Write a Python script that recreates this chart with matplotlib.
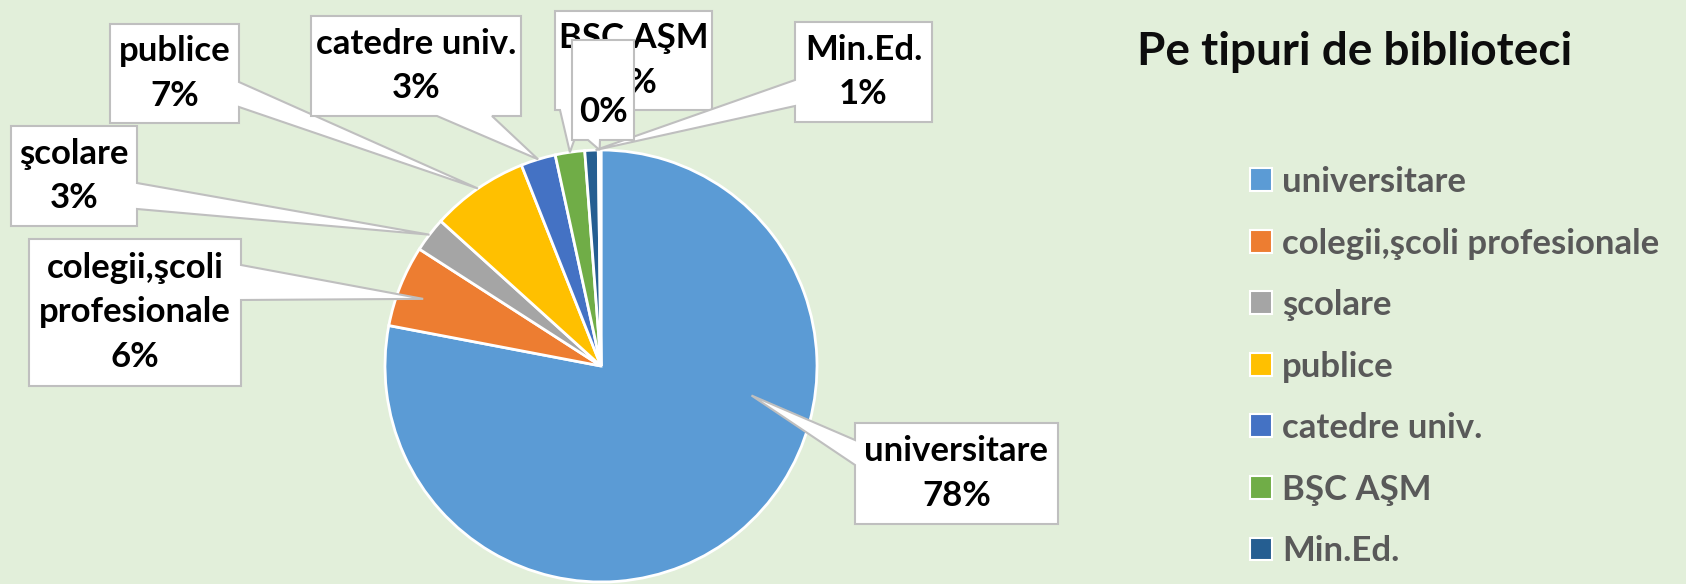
import matplotlib
matplotlib.use("Agg")
import numpy as np
import matplotlib.pyplot as plt
from matplotlib.patches import Polygon, Patch

plt.rcParams["font.family"] = ["Lato", "DejaVu Sans"]

# data
categories = ["universitare", "colegii,şcoli profesionale", "şcolare", "publice",
              "catedre univ.", "BŞC AŞM", "Min.Ed.", ""]
label_names = ["universitare", "colegii,şcoli\nprofesionale", "şcolare", "publice",
               "catedre univ.", "BŞC AŞM", "Min.Ed.", ""]
shares = [78.0, 6.1, 2.6, 7.3, 2.6, 2.2, 1.0, 0.2]
colors = ["#5B9BD5", "#ED7D31", "#A5A5A5", "#FFC000", "#4472C4", "#70AD47",
          "#255E91", "#9E480E"]
title = "Pe tipuri de biblioteci"

W, H = 1686, 584
BG = "#E2EFDA"
cx, cy, R = 601, 366, 216   # pie centre / radius in pixels (top-down)

# callout layout: box (x0, y0, x1, y1) px top-down, side, base span, tip (t within slice, radial frac)
callouts = [
    (0, (855, 423, 1058, 524), "left", (440, 465), (0.36, 0.71)),
    (1, (29, 239, 241, 386), "right", (265, 300), (0.45, 0.88)),
    (2, (11, 126, 137, 226), "right", (183, 209), (0.5, 1.0)),
    (3, (110, 24, 239, 123), "right", (82, 107), (0.5, 1.0)),
    (4, (311, 16, 521, 116), "bottom", (437, 492), (0.5, 1.0)),
    (5, (555, 11, 712, 110), "bottom", (560, 585), (0.5, 1.0)),
    (7, (572, 40, 634, 140), "bottom", (588, 600), (0.5, 1.0)),
    (6, (795, 22, 932, 122), "left", (80, 106), (0.8, 1.0)),
]

fig = plt.figure(figsize=(W / 100, H / 100), dpi=100, facecolor=BG)
ax = fig.add_axes([0, 0, 1, 1])
ax.set_facecolor(BG)

wedges, _ = ax.pie(shares, colors=colors, startangle=90, counterclock=False,
                   center=(cx, H - cy), radius=R,
                   wedgeprops=dict(edgecolor="white", linewidth=2))
ax.set_xlim(0, W)
ax.set_ylim(0, H)
ax.set_aspect("auto")
ax.axis("off")

total = sum(shares)


def tip_point(w, t, rf):
    ang = np.radians(w.theta2 - t * (w.theta2 - w.theta1))
    return (cx + R * rf * np.cos(ang), (H - cy) + R * rf * np.sin(ang))


for i, (x0, y0, x1, y1), side, (a, b), (t, rf) in callouts:
    tip = tip_point(wedges[i], t, rf)
    Y = lambda v: H - v
    pts = [(x0, Y(y0))]
    if side == "top":
        pts += [(a, Y(y0)), tip, (b, Y(y0))]
    pts += [(x1, Y(y0))]
    if side == "right":
        pts += [(x1, Y(a)), tip, (x1, Y(b))]
    pts += [(x1, Y(y1))]
    if side == "bottom":
        pts += [(b, Y(y1)), tip, (a, Y(y1))]
    pts += [(x0, Y(y1))]
    if side == "left":
        pts += [(x0, Y(b)), tip, (x0, Y(a))]
    ax.add_patch(Polygon(pts, closed=True, facecolor="white", edgecolor="#BFBFBF",
                         linewidth=1.5, zorder=3 + i * 0.1, joinstyle="miter"))
    pct = f"{shares[i] / total * 100:.0f}%"
    txt = label_names[i] + "\n" + pct
    ax.text((x0 + x1) / 2, Y((y0 + y1) / 2), txt, ha="center", va="center",
            fontsize=25, fontweight="bold", color="black", linespacing=1.47,
            zorder=3.05 + i * 0.1)

ax.text(1355, H - 65, title, ha="center", va="baseline", fontsize=33,
        fontweight="bold", color="#0D0D0D")

handles = [Patch(facecolor=c, edgecolor="white", linewidth=1.5) for c in colors[:7]]
ax.legend(handles, categories[:7], loc="upper left", bbox_to_anchor=(1250, H - 166),
          bbox_transform=ax.transData, frameon=False, borderpad=0, borderaxespad=0,
          prop=dict(size=25, weight="bold"), labelcolor="#595959",
          handlelength=0.63, handleheight=0.63, handletextpad=0.29, labelspacing=0.85)

fig.savefig("out.png", dpi=100, facecolor=BG)
